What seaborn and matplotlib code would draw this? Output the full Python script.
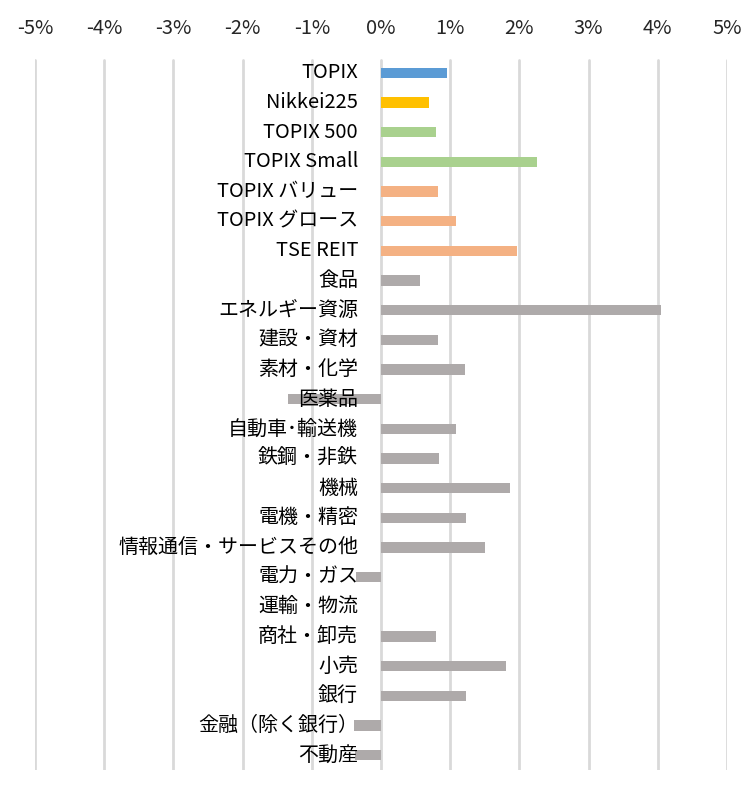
import numpy as np
import pandas as pd
import matplotlib
matplotlib.use('Agg')
import matplotlib.pyplot as plt
import seaborn as sns

# -----------------------------------------------------------
# data (monthly return, %)
# -----------------------------------------------------------
labels = ['TOPIX', 'Nikkei225', 'TOPIX 500', 'TOPIX Small',
          'TOPIX バリュー', 'TOPIX グロース', 'TSE REIT',
          '食品', 'エネルギー資源', '建設・資材', '素材・化学', '医薬品',
          '自動車･輸送機', '鉄鋼・非鉄', '機械', '電機・精密',
          '情報通信・サービスその他', '電力・ガス', '運輸・物流', '商社・卸売',
          '小売', '銀行', '金融（除く銀行）', '不動産']
returns = [0.95, 0.69, 0.79, 2.25,
           0.82, 1.08, 1.96,
           0.56, 4.05, 0.82, 1.21, -1.34,
           1.08, 0.84, 1.86, 1.23,
           1.51, -0.36, 0.0, 0.79,
           1.80, 1.23, -0.39, -0.37]
groups = ['topix', 'nikkei', 'size', 'size',
          'style', 'style', 'style'] + ['sector'] * 17

group_colors = {'topix': '#5b9bd5', 'nikkei': '#ffc000', 'size': '#a9d18e',
                'style': '#f4b183', 'sector': '#aeaaaa'}
ticks = [-5, -4, -3, -2, -1, 0, 1, 2, 3, 4, 5]

df = pd.DataFrame({'label': labels, 'ret': returns, 'group': groups})

# -----------------------------------------------------------
# plot
# -----------------------------------------------------------
sns.set_style('white')
plt.rcParams['font.family'] = ['Noto Sans CJK JP', 'DejaVu Sans']

fig = plt.figure(figsize=(7.56, 7.92), dpi=100)
ax = fig.add_axes([35 / 756, 1 - 770 / 792, 692 / 756, 712 / 792])

sns.barplot(data=df, x='ret', y='label', hue='group', palette=group_colors,
            saturation=1, dodge=False, width=0.35, legend=False, orient='h',
            ax=ax, zorder=2, linewidth=0)

ax.set_xlim(-5, 5)
ax.set_ylim(len(labels) - 0.5, -0.5)
ax.set_xticks(ticks)
ax.set_xticklabels([f'{t}%' for t in ticks], fontsize=14.4)
ax.xaxis.tick_top()
ax.tick_params(axis='x', length=0, pad=14)
ax.set_yticks([])
ax.set_xlabel('')
ax.set_ylabel('')
for s in ax.spines.values():
    s.set_visible(False)

# vertical gridlines
for t in ticks:
    ax.axvline(t, color='#d9d9d9', lw=2, zorder=0, ymax=(770 - 60) / 712)

# category names just left of the zero line
for i, name in enumerate(labels):
    ax.annotate(name, xy=(0, i), xytext=(-23, 0), textcoords='offset pixels',
                ha='right', va='center', fontsize=14.4, color='black', zorder=3)

fig.savefig('out.png', dpi=100)
